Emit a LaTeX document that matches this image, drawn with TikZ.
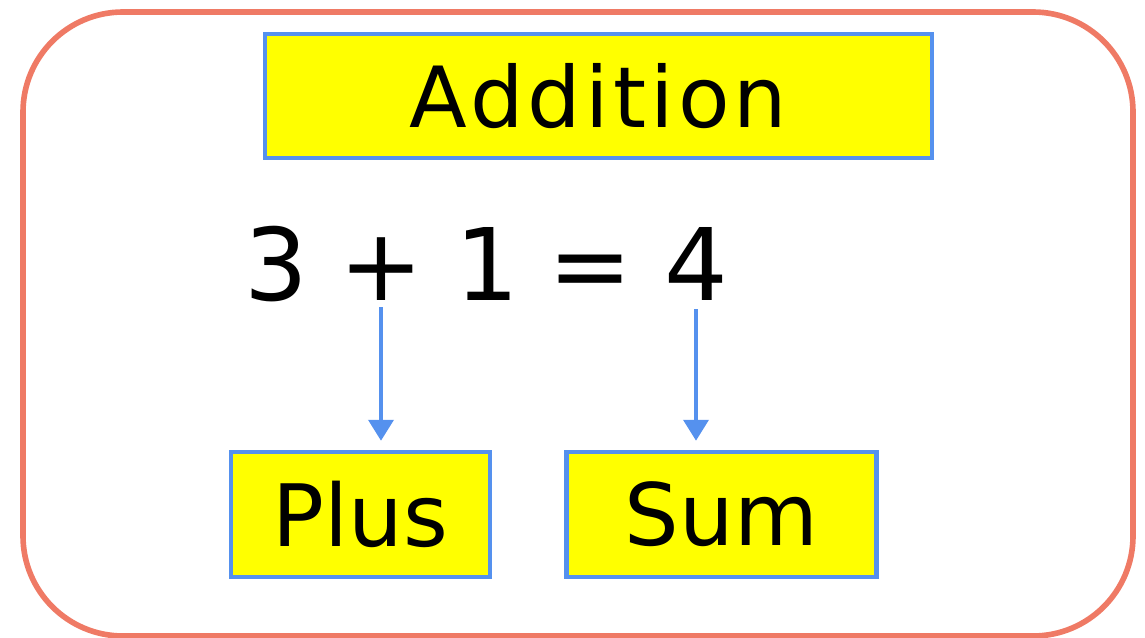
\documentclass[tikz,border=0pt]{standalone}
\usepackage{fontspec}
\setmainfont{DejaVu Sans}
\usetikzlibrary{arrows.meta}
\definecolor{rahmen}{HTML}{EF7A65}
\definecolor{kasten}{HTML}{5591EE}
\definecolor{gelb}{HTML}{FFFF00}

\tikzset{
  wordbox/.style={draw=kasten, fill=gelb, line width=2.7pt, inner sep=0pt, font=\fontsize{49}{58}\selectfont},
  eqglyph/.style={inner sep=0pt, anchor=base, font=\fontsize{57}{66}\selectfont},
  pointer/.style={draw=kasten, line width=2.8pt, -{Triangle[width=14pt,length=12pt]}}
}

\begin{document}
\begin{tikzpicture}[x=0.02cm, y=-0.02cm]
\useasboundingbox (0,0) rectangle (1145,638);

% Frame
\draw[rahmen, line width=3.2pt, rounded corners=2cm] (23,12) rectangle (1133,636);

% Title
\node[wordbox, minimum width=13.34cm, minimum height=2.48cm, font=\fontsize{48}{58}\selectfont\addfontfeature{LetterSpace=5}] (title) at (598.5,96) {Addition};

% Equation
\node[eqglyph] (three) at (276,300) {3};
\node[eqglyph] (plusop) at (381,300) {+};
\node[eqglyph] (one) at (487,300) {1};
\node[eqglyph] (equals) at (590,300) {=};
\node[eqglyph] (four) at (696,300) {4};

% Names
\node[wordbox, minimum width=5.18cm, minimum height=2.5cm] (plusname) at (360.5,514.5) {Plus};
\node[wordbox, minimum width=6.2cm, minimum height=2.5cm] (sumname) at (721.5,514.5) {Sum};

% Arrows
\draw[pointer, shorten <=4pt, shorten >=5pt] (plusop.south) -- (plusop.south |- plusname.north);
\draw[pointer, shorten <=5pt, shorten >=5pt] (four.south) -- (four.south |- sumname.north);
\end{tikzpicture}
\end{document}
